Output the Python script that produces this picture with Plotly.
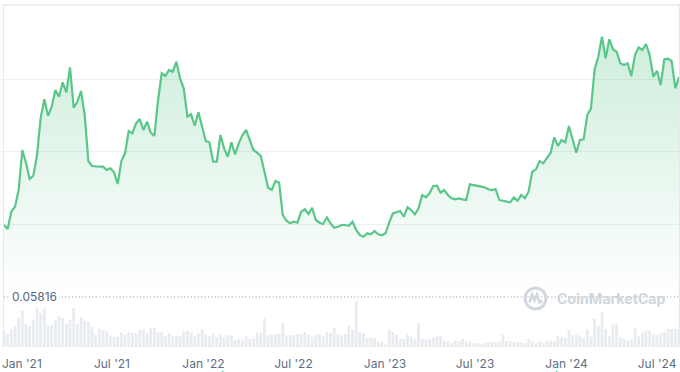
import pandas as pd
import plotly.graph_objects as go

# ---------------- data ----------------
start_date = "2020-11-26"
end_date = "2024-08-14"

price = [
    0.07615, 0.07515, 0.07947, 0.08072, 0.0849, 0.0949, 0.09165, 0.08765, 0.08847, 0.09365,
    0.1029, 0.10757, 0.10347, 0.10572, 0.1099, 0.10822, 0.11182, 0.10932, 0.11557, 0.10547,
    0.10697, 0.10965, 0.10365, 0.09215, 0.0909, 0.09072, 0.09072, 0.09072, 0.0899, 0.09032,
    0.08932, 0.0864, 0.09215, 0.09407, 0.09965, 0.09907, 0.10157, 0.10265, 0.0999, 0.10197,
    0.09922, 0.0984, 0.1074, 0.11407, 0.1134, 0.1149, 0.11447, 0.11697, 0.11282, 0.11032,
    0.10322, 0.10382, 0.10097, 0.10432, 0.10072, 0.09715, 0.09682, 0.09197, 0.09197, 0.09865,
    0.09532, 0.09322, 0.09682, 0.09382, 0.09657, 0.09865, 0.0999, 0.09715, 0.0949, 0.09422,
    0.0934, 0.08947, 0.08547, 0.0849, 0.08715, 0.08672, 0.07865, 0.07722, 0.07657, 0.07697,
    0.07672, 0.07947, 0.08007, 0.0789, 0.08047, 0.0774, 0.07672, 0.0764, 0.07807, 0.07657,
    0.07547, 0.07572, 0.07615, 0.07615, 0.07597, 0.07697, 0.0749, 0.07365, 0.07322, 0.07407,
    0.07382, 0.07465, 0.07382, 0.07357, 0.07407, 0.07672, 0.07907, 0.07932, 0.07965, 0.07822,
    0.08057, 0.0799, 0.07882, 0.08032, 0.08365, 0.08307, 0.08407, 0.0859, 0.08597, 0.08422,
    0.0849, 0.08365, 0.08282, 0.08257, 0.08282, 0.08257, 0.0824, 0.08632, 0.08615, 0.0859,
    0.0859, 0.08557, 0.08507, 0.0849, 0.08515, 0.0824, 0.08222, 0.08197, 0.08182, 0.08307,
    0.08222, 0.08365, 0.08282, 0.08447, 0.08947, 0.09007, 0.09215, 0.09157, 0.09282, 0.09422,
    0.09807, 0.0959, 0.0974, 0.09682, 0.1009, 0.0974, 0.09422, 0.0974, 0.09757, 0.10365,
    0.10532, 0.11507, 0.11822, 0.12322, 0.11782, 0.12257, 0.12007, 0.11947, 0.11657, 0.11615,
    0.11657, 0.1134, 0.11865, 0.12057, 0.1199, 0.1214, 0.11865, 0.11322, 0.11472, 0.11115,
    0.11757, 0.11772, 0.11715, 0.11032, 0.11315,
]

volume_m = [
    47, 39, 52, 62, 87, 109, 69, 62, 82, 115, 102, 115, 65, 67, 82, 92, 87, 69, 82, 117,
    69, 90, 79, 75, 60, 37, 55, 50, 47, 34, 30, 30, 45, 37, 45, 42, 42, 52, 52, 42,
    57, 57, 45, 45, 34, 42, 32, 34, 34, 47, 49, 44, 34, 42, 54, 39, 32, 40, 30, 39,
    30, 35, 35, 20, 24, 22, 32, 24, 25, 44, 42, 85, 35, 37, 40, 40, 72, 35, 35, 35,
    39, 39, 45, 37, 30, 37, 39, 34, 45, 42, 57, 39,
    35, 39, 64, 52, 137, 45, 42, 27, 29, 27, 17, 15, 7, 52, 45, 37, 24, 24, 37, 30,
    24, 72, 24, 22, 24, 29, 32, 34, 20, 17, 12, 19, 17, 24, 17, 14, 12, 12, 9, 12,
    14, 17, 15, 17, 37, 17, 17, 15, 15, 14, 12, 25, 19, 12, 17, 12, 17, 19, 17, 34,
    29, 27, 52, 35, 37, 32, 27, 52, 32, 85, 64, 107, 54, 32, 67, 70, 30, 25, 20, 22,
    57, 32, 42, 49, 49, 39, 37, 40, 45, 54, 54, 54, 54,
]

tick_dates = ["2021-01-01", "2021-07-01", "2022-01-01", "2022-07-01",
              "2023-01-01", "2023-07-01", "2024-01-01", "2024-07-01"]
tick_labels = ["Jan '21", "Jul '21", "Jan '22", "Jul '22",
               "Jan '23", "Jul '23", "Jan '24", "Jul '24"]
grid_values = [0.07633, 0.09448, 0.11258]
open_price = 0.05816
event_dates = ["2022-02-09", "2023-12-12"]

dates = pd.date_range(start_date, end_date, periods=len(price))

# ---------------- style ----------------
LINE = "#5bc68a"
FONT = "Inter"
W, H = 680, 372
PLOT_H = 347

fig = go.Figure()

# baseline for the gradient fill
fig.add_trace(go.Scatter(
    x=dates, y=[open_price] * len(price), mode="lines",
    line=dict(width=0, color="rgba(0,0,0,0)"), hoverinfo="skip", showlegend=False,
))
fig.add_trace(go.Scatter(
    x=dates, y=price, mode="lines",
    line=dict(color=LINE, width=2.2),
    fill="tonexty",
    fillgradient=dict(
        type="vertical",
        start=open_price, stop=max(price),
        colorscale=[[0, "rgba(91,198,138,0.0)"],
                    [0.3, "rgba(91,198,138,0.09)"],
                    [1, "rgba(91,198,138,0.30)"]],
    ),
    showlegend=False,
))
fig.add_trace(go.Bar(
    x=dates, y=volume_m, yaxis="y2",
    marker=dict(color="#e8ebef", line=dict(width=0)),
    showlegend=False,
))

shapes = [
    # top border
    dict(type="line", xref="paper", yref="paper", x0=0.004, x1=1,
         y0=1 - 5 / PLOT_H, y1=1 - 5 / PLOT_H, line=dict(color="#e6e8ea", width=1.5)),
    # left border
    dict(type="line", xref="paper", yref="paper", x0=3.5 / W, x1=3.5 / W,
         y0=0, y1=1 - 5 / PLOT_H, line=dict(color="#e6e8ea", width=1)),
    # right border
    dict(type="line", xref="paper", yref="paper", x0=679.5 / W, x1=679.5 / W,
         y0=0, y1=1 - 5 / PLOT_H, line=dict(color="#e6e8ea", width=1)),
    # dotted opening-price line
    dict(type="line", xref="paper", yref="y", x0=4 / W, x1=1,
         y0=open_price, y1=open_price,
         line=dict(color="#8a919e", width=1, dash="1px,2.4px"), layer="above"),
    # watermark logo circle
    dict(type="circle", xref="paper", yref="paper", xsizemode="pixel", ysizemode="pixel",
         xanchor=535.5 / W, yanchor=1 - 298.5 / PLOT_H,
         x0=-10.5, x1=10.5, y0=-10.5, y1=10.5,
         line=dict(color="#d3d7e0", width=3)),
    dict(type="path", xref="paper", yref="paper", xsizemode="pixel", ysizemode="pixel",
         xanchor=535.5 / W, yanchor=1 - 298.5 / PLOT_H,
         path="M -6,-4 L -3.5,4 L -1,-2 L 1.5,4 L 4,-4 L 7,-2",
         line=dict(color="#d3d7e0", width=2.6)),
]

annotations = [
    dict(text="0.05816", xref="paper", yref="y", x=9 / W, y=open_price,
         xanchor="left", yanchor="middle", showarrow=False,
         font=dict(family=FONT, size=12, color="#58667e"),
         bgcolor="white", borderpad=2),
    dict(text="CoinMarketCap", xref="paper", yref="paper",
         x=555 / W, y=1 - 299 / PLOT_H, xanchor="left", yanchor="middle",
         showarrow=False,
         font=dict(family="Roboto", size=15.5, color="#d0d5de", weight=700)),
]
for d in event_dates:
    annotations.append(dict(
        text="▲", xref="x", yref="paper", x=d, y=(PLOT_H - 366) / PLOT_H,
        xanchor="center", yanchor="top", showarrow=False,
        font=dict(family="DejaVu Sans", size=9, color="#16c784"),
    ))

fig.update_layout(
    width=W, height=H,
    margin=dict(l=0, r=0, t=0, b=H - PLOT_H),
    paper_bgcolor="white", plot_bgcolor="rgba(0,0,0,0)",
    bargap=0.25,
    showlegend=False,
    hovermode=False,
    xaxis=dict(
        type="date", range=["2020-11-18", "2024-08-16"],
        tickvals=tick_dates, ticktext=tick_labels,
        showgrid=False, zeroline=False, showline=False, ticks="",
        tickfont=dict(family=FONT, size=12, color="#616e85"),
        ticklabelstandoff=8, anchor="y",
    ),
    yaxis=dict(
        domain=[0, 1], range=[0.04565, 0.1324],
        tickvals=grid_values, showticklabels=False,
        showgrid=True, gridcolor="#eeeff1", gridwidth=1,
        zeroline=False, showline=False,
    ),
    yaxis2=dict(
        domain=[0, 46 / PLOT_H], range=[0, 138], anchor="x",
        showgrid=False, showticklabels=False, zeroline=False, showline=False,
    ),
    shapes=shapes,
    annotations=annotations,
)

fig.write_html("out.html", config={"displayModeBar": False},
               post_script="document.body.style.margin='0';")
